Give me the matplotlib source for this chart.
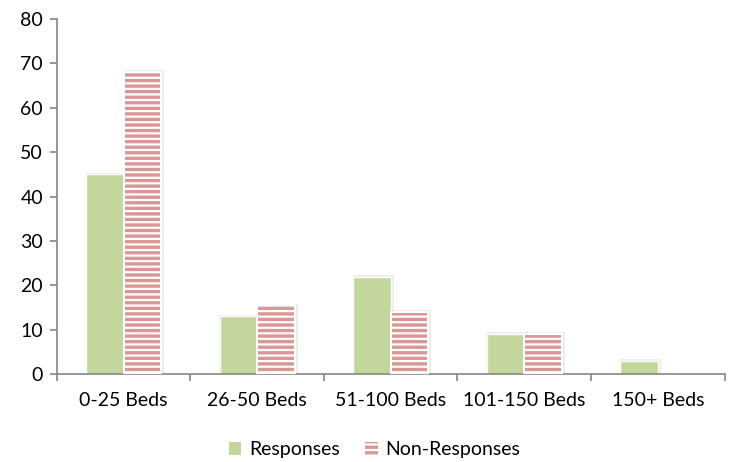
import matplotlib
matplotlib.use('Agg')
from matplotlib import pyplot as plt
from matplotlib.patches import Patch
import numpy as np

# Survey counts by facility size
categories = ['0-25 Beds', '26-50 Beds', '51-100 Beds', '101-150 Beds', '150+ Beds']
responses = [45, 13, 22, 9, 3]
non_responses = [68, 15.5, 14, 9, 0]

green = '#C3D69B'
pink = '#D99694'
axis_grey = '#868686'

plt.rcParams['font.family'] = ['Lato', 'DejaVu Sans']
plt.rcParams['hatch.linewidth'] = 2.4

fig = plt.figure(figsize=(7.3, 4.62), dpi=100)
ax = fig.add_axes([0.078, 0.19, 0.9145, 0.769])

x = np.arange(len(categories))
w = 0.28

# soft shadow behind each bar
for vals, off in ((responses, -w / 2), (non_responses, w / 2)):
    for xi, v in zip(x, vals):
        if v > 0:
            ax.bar(xi + off + 0.01, v + 0.4, w + 0.03, color='#000000', alpha=0.07,
                   linewidth=0, zorder=1)

ax.bar(x - w / 2, responses, w, color=green, edgecolor='white', linewidth=1.0, zorder=2)
ax.bar(x + w / 2, non_responses, w, color='white', edgecolor=pink, linewidth=0,
       hatch='---', zorder=2)
ax.bar(x + w / 2, [v if v > 0 else np.nan for v in non_responses], w, fill=False,
       edgecolor='white', linewidth=1.5, zorder=3)

ax.set_xlim(-0.5, len(categories) - 0.5)
ax.set_ylim(0, 80)
ax.set_yticks(range(0, 81, 10))
ax.set_xticks(np.arange(-0.5, len(categories), 1))
ax.set_xticklabels([])
ax.set_xticks(x, minor=True)
ax.set_xticklabels(categories, minor=True)
ax.tick_params(axis='x', which='minor', length=0, pad=13, labelsize=14)
ax.tick_params(axis='x', which='major', length=5, color=axis_grey, width=1.2)
ax.tick_params(axis='y', length=5, color=axis_grey, width=1.2, labelsize=14, pad=5)

for s in ('top', 'right'):
    ax.spines[s].set_visible(False)
for s in ('left', 'bottom'):
    ax.spines[s].set_color(axis_grey)
    ax.spines[s].set_linewidth(1.2)

handles = [Patch(facecolor=green, edgecolor='none'),
           Patch(facecolor='white', edgecolor=pink, linewidth=0, hatch='---')]
fig.legend(handles, ['Responses', 'Non-Responses'], loc='center', ncol=2,
           bbox_to_anchor=(0.513, 0.026), frameon=False, fontsize=14,
           handlelength=0.65, handleheight=0.65, handletextpad=0.4, columnspacing=1.3)

fig.savefig('out.png', dpi=100)
